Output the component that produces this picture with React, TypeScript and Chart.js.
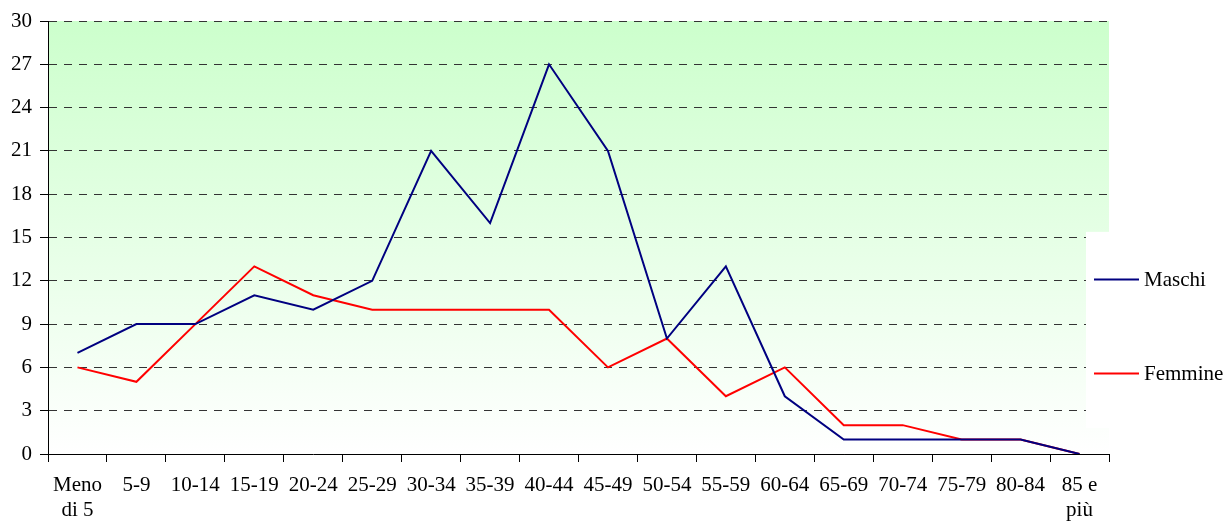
import React, { useEffect, useRef } from "react";
import { Chart, registerables } from "chart.js";

Chart.register(...registerables);

const categories: (string | string[])[] = [
  ["Meno", "di 5"], "5-9", "10-14", "15-19", "20-24", "25-29", "30-34", "35-39", "40-44",
  "45-49", "50-54", "55-59", "60-64", "65-69", "70-74", "75-79", "80-84", ["85 e", "più"],
];
const maschi = [7, 9, 9, 11, 10, 12, 21, 16, 27, 21, 8, 13, 4, 1, 1, 1, 1, 0];
const femmine = [6, 5, 9, 13, 11, 10, 10, 10, 10, 6, 8, 4, 6, 2, 2, 1, 1, 0];
const seriesNames = ["Maschi", "Femmine"];
const seriesColors = ["#000080", "#ff0000"];
const yMin = 0;
const yMax = 30;
const yStep = 3;

const FONT = "'Liberation Serif', 'Times New Roman', serif";

const bgPlugin = {
  id: "bgGradient",
  beforeDraw(chart: any) {
    const { ctx, chartArea } = chart;
    const g = ctx.createLinearGradient(0, chartArea.top, 0, chartArea.bottom);
    g.addColorStop(0, "#ccffcc");
    g.addColorStop(1, "#ffffff");
    ctx.save();
    ctx.fillStyle = g;
    ctx.fillRect(chartArea.left, chartArea.top, chartArea.right - chartArea.left, chartArea.bottom - chartArea.top);
    ctx.restore();
  },
};

const legendPlugin = {
  id: "sideLegend",
  afterDraw(chart: any) {
    const { ctx, chartArea, width } = chart;
    const h = chartArea.bottom - chartArea.top;
    const boxLeft = chartArea.right - 23;
    const boxTop = chartArea.top + h * 0.487;
    const boxBottom = chartArea.top + h * 0.94;
    ctx.save();
    ctx.fillStyle = "#ffffff";
    ctx.fillRect(boxLeft, boxTop, width - boxLeft, boxBottom - boxTop);
    const ys = [chartArea.top + h * 0.596, chartArea.top + h * 0.813];
    ctx.font = `21px ${FONT}`;
    ctx.textBaseline = "middle";
    ctx.textAlign = "left";
    seriesNames.forEach((name, i) => {
      const y = Math.round(ys[i]) + 0.5;
      ctx.strokeStyle = seriesColors[i];
      ctx.lineWidth = 2;
      ctx.beginPath();
      ctx.moveTo(boxLeft + 8, y);
      ctx.lineTo(boxLeft + 53, y);
      ctx.stroke();
      ctx.fillStyle = "#000";
      ctx.fillText(name, boxLeft + 58, y + 1);
    });
    ctx.restore();
  },
};

export default function App() {
  const ref = useRef<HTMLCanvasElement | null>(null);
  useEffect(() => {
    document.body.style.margin = "0";
    if (!ref.current) return;
    const chart = new Chart(ref.current, {
      type: "line",
      data: {
        labels: categories as any,
        datasets: [
          { label: seriesNames[0], data: maschi, borderColor: seriesColors[0], backgroundColor: seriesColors[0], borderWidth: 2, pointRadius: 0, tension: 0 },
          { label: seriesNames[1], data: femmine, borderColor: seriesColors[1], backgroundColor: seriesColors[1], borderWidth: 2, pointRadius: 0, tension: 0 },
        ],
      },
      options: {
        animation: false,
        responsive: true,
        maintainAspectRatio: false,
        layout: { padding: { top: 21, right: 118, left: 0, bottom: 0 } },
        plugins: { legend: { display: false }, tooltip: { enabled: false } },
        scales: {
          x: {
            type: "category",
            offset: true,
            grid: { display: true, drawOnChartArea: false, drawTicks: true, tickLength: 8, color: "#000", offset: true },
            border: { display: true, color: "#000", width: 1 },
            ticks: { font: { family: FONT, size: 21 }, color: "#000", maxRotation: 0, minRotation: 0, autoSkip: false, padding: 11 },
            afterFit: (s: any) => { s.height = 68; },
          },
          y: {
            min: yMin,
            max: yMax,
            grid: { color: "#333", tickColor: "#000", tickLength: 8, drawTicks: true },
            border: { display: true, color: "#000", width: 1, dash: [8, 7] },
            ticks: { stepSize: yStep, font: { family: FONT, size: 21 }, color: "#000", padding: 8 },
            afterFit: (s: any) => { s.width = 48; },
          },
        },
      },
      plugins: [bgPlugin, legendPlugin],
    });
    return () => chart.destroy();
  }, []);
  return (
    <div style={{ width: "1227px", height: "522px", position: "relative", overflow: "hidden" }}>
      <canvas ref={ref} />
    </div>
  );
}
